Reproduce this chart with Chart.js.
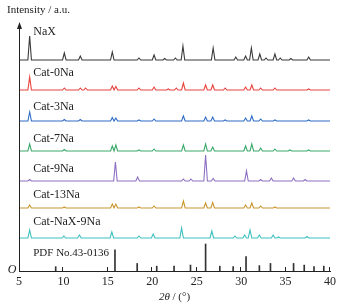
<!DOCTYPE html>
<html>
<head>
<meta charset="utf-8">
<script src="https://cdn.jsdelivr.net/npm/chart.js@4.4.1/dist/chart.umd.min.js"></script>
<style>
  html, body { margin: 0; padding: 0; background: #fff; }
  #wrap { width: 343px; height: 308px; }
</style>
</head>
<body>
<div id="wrap"><canvas id="xrd"></canvas></div>
<script>
// 2θ peak positions and heights
const naxPos = [6.2, 10.1, 11.9, 15.5, 18.5, 20.2, 21.4, 22.6, 23.45, 26.85, 29.4, 30.5, 31.15, 32.1, 32.8, 33.8, 34.4, 35.6, 37.6];
const naxInt = [24, 7, 4, 8, 2, 5, 1.5, 2, 14, 12, 3, 4, 12, 6, 2, 6, 2, 1.5, 3];

const cat0Pos = [6.2, 10.1, 11.9, 12.5, 15.5, 15.9, 18.5, 20.2, 21.8, 22.7, 23.5, 26.0, 26.8, 28.2, 30.5, 31.2, 32.2, 33.8, 37.6];
const cat0Int = [13, 2, 2, 2, 4, 3.5, 2, 3, 1, 2, 7, 5, 5, 2, 3, 5, 2, 2, 1];

const cat3Pos = [6.2, 10.1, 11.9, 15.5, 15.9, 18.5, 20.2, 23.5, 26.0, 26.8, 28.2, 30.5, 31.2, 32.2, 33.8, 37.6];
const cat3Int = [9, 1.5, 1.5, 3.5, 3, 1, 2, 5, 4, 4, 1, 3, 5, 2, 1, 1];

const cat7Pos = [6.2, 10.1, 15.5, 15.9, 18.5, 20.2, 23.5, 26.0, 26.8, 30.5, 31.2, 32.2, 33.8, 35.5, 37.6];
const cat7Int = [7, 1.5, 5, 6, 1, 2, 6, 7, 4, 5, 7, 3, 2, 1, 1];

const cat9Pos = [6.2, 15.85, 18.35, 23.5, 24.35, 26.0, 26.85, 30.6, 32.2, 33.4, 35.9, 37.2];
const cat9Int = [1.5, 19, 4, 2, 2, 26, 2.5, 10, 1.5, 3, 3, 1.5];

const cat13Pos = [6.2, 10.1, 15.5, 15.9, 18.5, 20.2, 23.5, 26.0, 26.8, 30.5, 31.2, 32.2, 33.8];
const cat13Int = [3, 1, 4, 4, 1, 2, 7, 5, 5.5, 3, 5, 2, 1];

const catNaxPos = [6.2, 10.05, 11.8, 15.45, 18.5, 20.1, 23.3, 26.7, 29.3, 30.4, 31.0, 32.05, 33.6, 34.2, 37.4];
const catNaxInt = [8, 2, 3, 6, 2, 4, 10, 7, 2, 3, 8, 3, 3, 1, 1.5];

// PDF No.43-0136 stick pattern (relative intensity)
const pdfPos = [9.13, 15.8, 18.3, 20.5, 22.45, 24.3, 26.0, 27.6, 29.1, 30.55, 32.05, 33.3, 35.9, 37.1, 38.2, 39.3];
const pdfInt = [16, 78, 28, 18, 18, 22, 100, 18, 16, 53, 20, 28, 28, 22, 16, 18];

const sampleNames = ['NaX', 'Cat-0Na', 'Cat-3Na', 'Cat-7Na', 'Cat-9Na', 'Cat-13Na', 'Cat-NaX-9Na'];
const xTicks = [5, 10, 15, 20, 25, 30, 35, 40];

// layout: vertical offsets of the stacked traces and their label heights
const offsets = [211, 181, 150, 120, 90, 63, 33];
const labelLift = [28, 17, 14, 12, 12, 13, 16];
const colors = ['#3a3a3a', '#e8433e', '#2f6dc6', '#3aa96c', '#8d70c2', '#c9962e', '#3ec0c0'];
const HALF = 0.2;
const STICK = 0.27;
const SERIF = '"Liberation Serif", "Times New Roman", serif';

function trace(pos, vals, base) {
  const pts = [{x: 5, y: base}];
  pos.forEach((p, i) => {
    pts.push({x: p - HALF, y: base}, {x: p, y: base + vals[i]}, {x: p + HALF, y: base});
  });
  pts.push({x: 40, y: base});
  return pts.sort((a, b) => a.x - b.x);
}

const series = [
  [naxPos, naxInt], [cat0Pos, cat0Int], [cat3Pos, cat3Int], [cat7Pos, cat7Int],
  [cat9Pos, cat9Int], [cat13Pos, cat13Int], [catNaxPos, catNaxInt]
];

const datasets = series.map(([p, v], i) => ({
  type: 'line',
  label: sampleNames[i],
  data: trace(p, v, offsets[i]),
  borderColor: colors[i],
  borderWidth: 1.1,
  pointRadius: 0,
  tension: 0
}));

datasets.push({
  type: 'bar',
  label: 'PDF No.43-0136',
  data: pdfPos.map((p, i) => ({x: p, y: pdfInt[i] * STICK})),
  backgroundColor: '#333',
  barThickness: 1,
  grouped: false
});

const decor = {
  id: 'decor',
  afterDraw(chart) {
    const {ctx, chartArea: a, scales: {x, y}} = chart;
    ctx.save();
    ctx.strokeStyle = '#222';
    ctx.fillStyle = '#222';
    ctx.lineWidth = 1;
    const lx = Math.round(a.left) + 0.5;
    // y axis with arrow head
    ctx.beginPath();
    ctx.moveTo(lx, a.bottom);
    ctx.lineTo(lx, a.top + 2);
    ctx.stroke();
    ctx.beginPath();
    ctx.moveTo(lx, a.top);
    ctx.lineTo(lx - 2.5, a.top + 7);
    ctx.lineTo(lx + 2.5, a.top + 7);
    ctx.closePath();
    ctx.fill();
    // inward x ticks
    xTicks.slice(1).forEach(v => {
      const px = Math.round(x.getPixelForValue(v)) - 0.5;
      ctx.beginPath();
      ctx.moveTo(px, a.bottom);
      ctx.lineTo(px, a.bottom - 4);
      ctx.stroke();
    });
    // trace labels
    ctx.fillStyle = '#222';
    ctx.font = '12px ' + SERIF;
    ctx.textBaseline = 'middle';
    ctx.textAlign = 'left';
    sampleNames.forEach((n, i) => {
      ctx.fillText(n, x.getPixelForValue(6.6), y.getPixelForValue(offsets[i] + labelLift[i]));
    });
    ctx.font = '11px ' + SERIF;
    ctx.fillText('PDF No.43-0136', x.getPixelForValue(6.6), y.getPixelForValue(18));
    // axis captions
    ctx.fillText('Intensity / a.u.', 7, 10);
    ctx.font = 'italic 12px ' + SERIF;
    ctx.textAlign = 'right';
    ctx.fillText('O', lx - 3, a.bottom - 1);
    // x title with italic 2θ
    const cx = (a.left + a.right) / 2;
    ctx.textAlign = 'left';
    ctx.font = 'italic 11px ' + SERIF;
    const w1 = ctx.measureText('2θ').width;
    ctx.font = '11px ' + SERIF;
    const w2 = ctx.measureText(' / (°)').width;
    const sx = cx - (w1 + w2) / 2;
    ctx.font = 'italic 11px ' + SERIF;
    ctx.fillText('2θ', sx, 297);
    ctx.font = '11px ' + SERIF;
    ctx.fillText(' / (°)', sx + w1, 297);
    ctx.restore();
  }
};

new Chart(document.getElementById('xrd'), {
  type: 'line',
  data: { datasets },
  options: {
    responsive: true,
    maintainAspectRatio: false,
    animation: false,
    layout: { padding: { left: 19, right: 13, top: 22, bottom: 0 } },
    plugins: { legend: { display: false }, tooltip: { enabled: false } },
    scales: {
      x: {
        type: 'linear',
        min: 5,
        max: 40,
        offset: false,
        grid: { display: false, drawTicks: false },
        border: { display: true, color: '#222', width: 1 },
        ticks: {
          stepSize: 5,
          padding: 4,
          color: '#222',
          font: { family: SERIF, size: 12 },
          maxRotation: 0
        },
        afterFit: (s) => { s.height = 37; }
      },
      y: {
        display: false,
        min: 0,
        max: 249
      }
    }
  },
  plugins: [decor]
});
</script>
</body>
</html>
